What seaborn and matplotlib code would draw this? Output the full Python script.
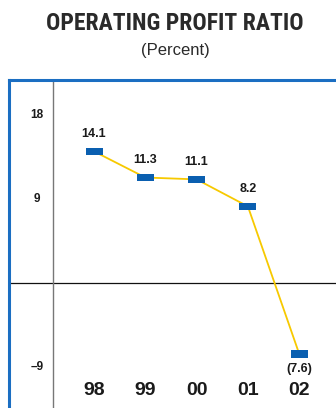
import matplotlib
matplotlib.use("Agg")
import matplotlib.pyplot as plt
from matplotlib.path import Path
import seaborn as sns
import pandas as pd

years = ["98", "99", "00", "01", "02"]
ratio = [14.1, 11.3, 11.1, 8.2, -7.6]
value_labels = ["14.1", "11.3", "11.1", "8.2", "(7.6)"]
y_ticks = [18, 9, -9]
y_tick_labels = ["18", "9", "\u20139"]

sns.set_theme(style="white")
plt.rcParams["font.family"] = ["Liberation Sans", "DejaVu Sans"]

df = pd.DataFrame({"pos": range(len(years)), "ratio": ratio})

fig = plt.figure(figsize=(3.36, 4.08), dpi=100)
W, H = 336, 408
ax = fig.add_axes([9 / W, 0, 1 - 9 / W, (408 - 80) / H])

blue = "#0a5fb0"
frame_blue = "#1b6ec2"
yellow = "#f7c900"

# horizontal bar-shaped marker
rect = Path([(-1, -0.45), (1, -0.45), (1, 0.45), (-1, 0.45), (-1, -0.45)],
            [Path.MOVETO, Path.LINETO, Path.LINETO, Path.LINETO, Path.CLOSEPOLY])

sns.lineplot(data=df, x="pos", y="ratio", ax=ax, color=yellow, linewidth=1.3,
             zorder=2)
sns.scatterplot(data=df, x="pos", y="ratio", ax=ax, marker=rect, s=150,
                color=blue, edgecolor="none", linewidth=0, zorder=3)

ax.set_xlim(-1.657, 4.717)
ax.set_ylim(-13.4, 21.75)

ax.axhline(0, color="#111111", linewidth=0.9, zorder=1)
ax.axvline(-0.80, color="#777777", linewidth=1.0, zorder=1)

for side in ["right", "bottom"]:
    ax.spines[side].set_visible(False)
for side in ["left", "top"]:
    ax.spines[side].set_visible(True)
    ax.spines[side].set_color(frame_blue)
    ax.spines[side].set_linewidth(2.2)

ax.set_xticks([])
ax.set_yticks([])
ax.set_xlabel("")
ax.set_ylabel("")

for i, (v, lab) in enumerate(zip(ratio, value_labels)):
    dy = 12.5 if v >= 0 else -11
    ax.annotate(lab, (i, v), xytext=(0, dy), textcoords="offset points",
                ha="center", va="center", fontsize=9, fontweight="bold",
                color="#1a1a1a")

for t, lab in zip(y_ticks, y_tick_labels):
    ax.text(-1.11, t, lab, ha="center", va="center", fontsize=8.5,
            fontweight="bold", color="#1a1a1a")

for i, lab in enumerate(years):
    ax.text(i, -11.55, lab, ha="center", va="center", fontsize=14,
            fontweight="bold", color="#1a1a1a")

fig.text(175 / W, 1 - 24 / H, "OPERATING PROFIT RATIO", ha="center",
         va="center", fontsize=17, fontweight="bold", color="#2a2a2a",
         family=["Roboto Condensed", "Roboto", "DejaVu Sans"])
fig.text(175 / W, 1 - 50 / H, "(Percent)", ha="center", va="center",
         fontsize=12, color="#2a2a2a")

fig.savefig("out.png", dpi=100)
